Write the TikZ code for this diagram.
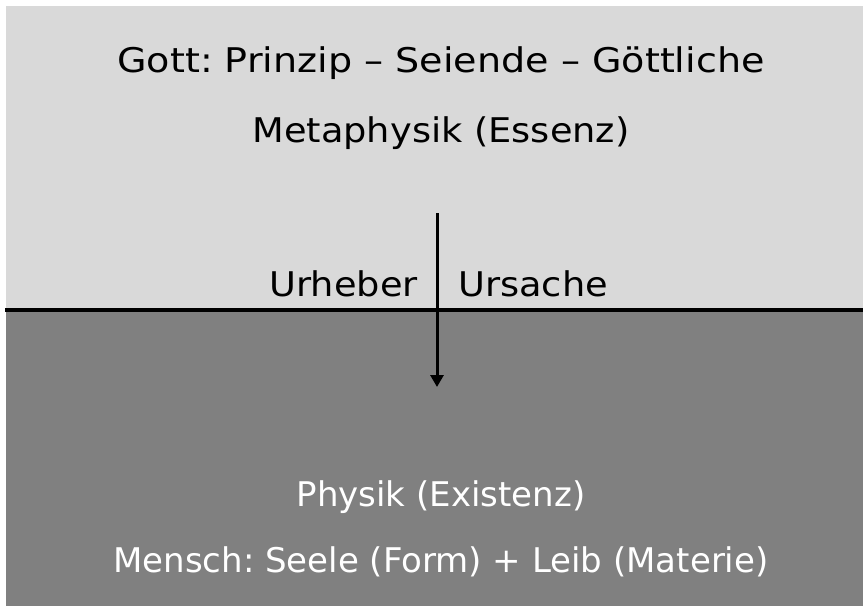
\documentclass[tikz,border=0pt]{standalone}
\usepackage{fontspec}
\setmainfont[FakeStretch=1.12]{DejaVu Sans}
\newfontfamily\midfont[FakeStretch=1.08]{DejaVu Sans}
\newfontfamily\lowerfont[FakeStretch=1.0]{DejaVu Sans}
\usetikzlibrary{arrows.meta}
\definecolor{lightbg}{HTML}{D9D9D9}
\definecolor{darkbg}{HTML}{808080}
\frenchspacing
\begin{document}
\begin{tikzpicture}[x=1pt,y=-1pt,
  lbl/.style={font=\fontsize{34}{40}\selectfont, inner sep=0pt, anchor=base},
  midlbl/.style={font=\midfont\fontsize{34}{40}\selectfont, inner sep=0pt, anchor=base},
  lowlbl/.style={font=\lowerfont\fontsize{34}{40}\selectfont, inner sep=0pt, anchor=base, text=white},
  divider/.style={line width=3.5pt, black},
  causal/.style={line width=3pt, -{Triangle[length=12pt,width=13pt]}}]
\useasboundingbox (0,0) rectangle (863,606);
\fill[white] (0,0) rectangle (863,606);
\fill[lightbg] (6,6) rectangle (863,310);
\fill[darkbg] (6,310) rectangle (863,606);
\coordinate (dl) at (5,310);
\coordinate (dr) at (863,310);
\draw[divider] (dl) -- (dr);
\node[lbl] (gott) at (441,72) {Gott: Prinzip – Seiende – Göttliche};
\node[midlbl] (meta) at (441,142) {Metaphysik (Essenz)};
\node[midlbl, anchor=base east] (urheber) at (418,296) {Urheber};
\node[midlbl, anchor=base west] (ursache) at (458,296) {Ursache};
\coordinate (atop) at (437,213);
\coordinate (abot) at (437,387);
\draw[causal] (atop) -- (abot);
\node[lowlbl] (physik) at (441,506) {Physik (Existenz)};
\node[lowlbl] (mensch) at (441,572) {Mensch: Seele (Form) + Leib (Materie)};
\end{tikzpicture}
\end{document}
